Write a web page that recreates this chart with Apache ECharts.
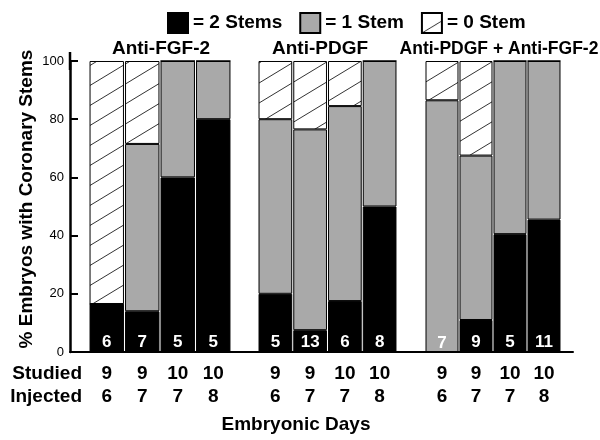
<!DOCTYPE html>
<html>
<head>
<meta charset="utf-8">
<script src="https://cdn.jsdelivr.net/npm/echarts@6/dist/echarts.min.js"></script>
<style>html,body{margin:0;padding:0;background:#fff}#c{width:600px;height:440px}</style>
</head>
<body>
<div id="c"></div>
<script>
// ---- data ----
var panels = ['Anti-FGF-2', 'Anti-PDGF', 'Anti-PDGF + Anti-FGF-2'];
var studied = ['9', '9', '10', '10'];
var injected = ['6', '7', '7', '8'];
var yTicks = [0, 20, 40, 60, 80, 100];
var countsFGF = [6, 7, 5, 5];
var countsPDGF = [5, 13, 6, 8];
var countsBoth = [7, 9, 5, 11];
var twoStemsFGF = [16.5, 14, 60, 80];
var oneStemFGF = [0, 57.5, 40, 20];
var zeroStemFGF = [83.5, 28.5, 0, 0];
var twoStemsPDGF = [20, 7.5, 17.5, 50];
var oneStemPDGF = [60, 69, 67, 50];
var zeroStemPDGF = [20, 23.5, 15.5, 0];
var twoStemsBoth = [0, 11, 40.5, 45.5];
var oneStemBoth = [86.5, 56.5, 59.5, 54.5];
var zeroStemBoth = [13.5, 32.5, 0, 0];
var legendNames = ['= 2 Stems', '= 1 Stem', '= 0 Stem'];

// ---- hatch pattern ----
var tile = document.createElement('canvas');
tile.width = 33; tile.height = 20;
var g = tile.getContext('2d');
g.fillStyle = '#fff'; g.fillRect(0, 0, 33, 20);
g.strokeStyle = '#333'; g.lineWidth = 1;
[-20, 0, 20].forEach(function (o) {
  g.beginPath(); g.moveTo(-33, 40 + o); g.lineTo(66, -20 + o); g.stroke();
});
var hatch = { image: tile, repeat: 'repeat' };

var FONT = 'Liberation Sans, Arial, sans-serif';
var counts = [countsFGF, countsPDGF, countsBoth];
var two = [twoStemsFGF, twoStemsPDGF, twoStemsBoth];
var one = [oneStemFGF, oneStemPDGF, oneStemBoth];
var zero = [zeroStemFGF, zeroStemPDGF, zeroStemBoth];
var gridBoxes = [[89, 142], [258, 139], [425, 136]];
var cats = studied.map(function (s, i) { return s + '\n' + injected[i]; });

var grids = [{ left: 70, top: 61, width: 503, height: 291 }];
var xAxes = [{ gridIndex: 0, type: 'value', min: 0, max: 1, axisLine: { show: true, lineStyle: { color: '#000', width: 2 } }, axisTick: { show: false }, axisLabel: { show: false }, splitLine: { show: false } }];
var yAxes = [{ gridIndex: 0, type: 'value', min: yTicks[0], max: yTicks[yTicks.length - 1], interval: 20,
  axisLine: { show: true, symbol: ['none', 'rect'], symbolSize: [2.5, 18], lineStyle: { color: '#000', width: 2.5 } },
  axisTick: { show: true, inside: true, length: 8, lineStyle: { color: '#000', width: 2 } },
  axisLabel: { color: '#000', fontSize: 13, fontFamily: FONT, margin: 6 },
  splitLine: { show: false } }];
var series = [];
gridBoxes.forEach(function (b, p) {
  var gi = p + 1;
  grids.push({ left: b[0], width: b[1], top: 61, height: 291 });
  xAxes.push({ gridIndex: gi, type: 'category', data: cats,
    axisLine: { show: false }, axisTick: { show: false },
    axisLabel: { color: '#000', fontSize: 19, fontWeight: 'bold', fontFamily: FONT, lineHeight: 23, margin: 10 } });
  yAxes.push({ gridIndex: gi, type: 'value', min: 0, max: 100, show: false });
  var c = counts[p];
  series.push({ type: 'bar', name: legendNames[0], xAxisIndex: gi, yAxisIndex: gi, stack: 's' + p, barWidth: '97%',
    data: two[p], itemStyle: { color: '#000', borderColor: '#000', borderWidth: 1 },
    label: { show: true, position: 'insideBottom', distance: 1, color: '#fff', fontSize: 17, fontWeight: 'bold', fontFamily: FONT,
      formatter: function (pr) { return String(c[pr.dataIndex]); } } });
  series.push({ type: 'bar', name: legendNames[1], xAxisIndex: gi, yAxisIndex: gi, stack: 's' + p, barWidth: '97%',
    data: one[p], itemStyle: { color: '#a9a9a9', borderColor: '#000', borderWidth: 1 } });
  series.push({ type: 'bar', name: legendNames[2], xAxisIndex: gi, yAxisIndex: gi, stack: 's' + p, barWidth: '97%',
    data: zero[p], itemStyle: { color: hatch, borderColor: '#000', borderWidth: 1 } });
});

function txt(t, x, y, size, opts) {
  opts = opts || {};
  return { type: 'text', x: x, y: y, rotation: opts.rot || 0, silent: true,
    style: { text: t, fill: '#000', font: 'bold ' + size + 'px ' + FONT, align: opts.align || 'center', verticalAlign: 'middle' } };
}

var chart = echarts.init(document.getElementById('c'), null, { renderer: 'canvas' });
chart.setOption({
  animation: false,
  backgroundColor: '#fff',
  textStyle: { fontFamily: FONT },
  legend: { data: legendNames, left: 162, top: 7, itemWidth: 20, itemHeight: 20, itemGap: 17,
    icon: 'rect', selectedMode: false,
    textStyle: { color: '#000', fontSize: 19, fontWeight: 'bold', fontFamily: FONT } },
  grid: grids, xAxis: xAxes, yAxis: yAxes, series: series,
  graphic: [
    txt(panels[0], 161, 49, 19),
    txt(panels[1], 320, 49, 19),
    txt(panels[2], 499, 49, 17.5),
    txt('Studied', 82, 374, 19, { align: 'right' }),
    txt('Injected', 82, 397, 19, { align: 'right' }),
    txt('Embryonic Days', 296, 425, 19),
    txt('% Embryos with Coronary Stems', 27, 199, 19, { rot: Math.PI / 2 })
  ]
});
</script>
</body>
</html>
